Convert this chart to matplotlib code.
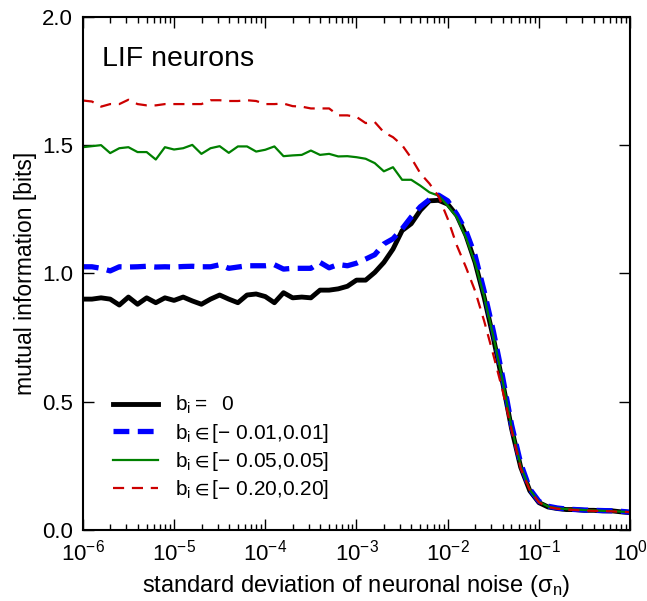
import numpy as np
import matplotlib
matplotlib.use('Agg')
from matplotlib import pyplot as plt

plt.rcParams['font.family'] = ['Liberation Sans', 'DejaVu Sans']
plt.rcParams['mathtext.fontset'] = 'custom'
plt.rcParams['mathtext.rm'] = 'Liberation Sans'
plt.rcParams['mathtext.it'] = 'Liberation Sans'
plt.rcParams['mathtext.default'] = 'regular'

sigma = np.logspace(-6, 0, 61)

mi_b0 = [0.90, 0.90, 0.905, 0.90, 0.877, 0.908, 0.88, 0.905, 0.886, 0.905,
         0.895, 0.908, 0.893, 0.88, 0.90, 0.916, 0.90, 0.886, 0.916, 0.92,
         0.91, 0.886, 0.925, 0.905, 0.908, 0.905, 0.935, 0.935, 0.94, 0.95,
         0.974, 0.974, 1.004, 1.043, 1.095, 1.167, 1.194, 1.246, 1.283, 1.285,
         1.27, 1.226, 1.148, 1.043, 0.906, 0.749, 0.579, 0.395, 0.245, 0.153,
         0.107, 0.09, 0.084, 0.08, 0.08, 0.077, 0.077, 0.075, 0.075, 0.071, 0.068]
mi_b001 = [1.026, 1.026, 1.02, 1.01, 1.026, 1.025, 1.026, 1.028, 1.025, 1.026,
           1.025, 1.027, 1.028, 1.026, 1.026, 1.034, 1.02, 1.025, 1.03, 1.03,
           1.03, 1.034, 1.017, 1.02, 1.02, 1.02, 1.043, 1.022, 1.035, 1.03,
           1.04, 1.056, 1.073, 1.115, 1.135, 1.174, 1.22, 1.26, 1.288, 1.305,
           1.283, 1.23, 1.165, 1.07, 0.93, 0.775, 0.60, 0.41, 0.26, 0.16,
           0.112, 0.093, 0.086, 0.082, 0.08, 0.078, 0.077, 0.076, 0.075, 0.073, 0.07]
mi_b005 = [1.492, 1.496, 1.50, 1.469, 1.488, 1.492, 1.473, 1.473, 1.444, 1.492,
           1.483, 1.488, 1.501, 1.466, 1.488, 1.496, 1.47, 1.495, 1.495, 1.475,
           1.482, 1.495, 1.457, 1.46, 1.462, 1.479, 1.462, 1.466, 1.456, 1.457,
           1.453, 1.447, 1.43, 1.398, 1.414, 1.365, 1.365, 1.342, 1.316, 1.303,
           1.264, 1.219, 1.14, 1.04, 0.91, 0.755, 0.585, 0.40, 0.25, 0.157,
           0.11, 0.092, 0.085, 0.082, 0.08, 0.078, 0.077, 0.075, 0.074, 0.072, 0.07]
mi_b020 = [1.674, 1.67, 1.65, 1.66, 1.66, 1.677, 1.66, 1.655, 1.655, 1.66,
           1.66, 1.66, 1.66, 1.66, 1.675, 1.675, 1.672, 1.672, 1.675, 1.672,
           1.66, 1.66, 1.662, 1.652, 1.65, 1.643, 1.643, 1.643, 1.616, 1.616,
           1.61, 1.586, 1.59, 1.55, 1.531, 1.50, 1.45, 1.39, 1.35, 1.30,
           1.213, 1.109, 1.024, 0.932, 0.814, 0.683, 0.546, 0.389, 0.24, 0.155,
           0.108, 0.09, 0.083, 0.08, 0.078, 0.076, 0.075, 0.074, 0.073, 0.071, 0.07]

labels = [r'$b_i = \ \ 0$', r'$b_i \in$[− 0.01,0.01]',
          r'$b_i \in$[− 0.05,0.05]', r'$b_i \in$[− 0.20,0.20]']

fig = plt.figure(figsize=(6.47, 6.01), dpi=100)
ax = fig.add_axes([0.128, 0.118, 0.846, 0.854])
ax.plot(sigma, mi_b0, color='black', lw=3.5, label=labels[0])
ax.plot(sigma, mi_b001, color='blue', lw=3.8, ls=(0, (3, 1.6)), label=labels[1])
ax.plot(sigma, mi_b005, color='green', lw=1.6, label=labels[2])
ax.plot(sigma, mi_b020, color='#cc0000', lw=1.6, ls=(0, (5, 3.5)), label=labels[3])

ax.set_xscale('log')
ax.set_xlim(1e-6, 1)
ax.set_ylim(0, 2)
ax.set_yticks([0, 0.5, 1.0, 1.5, 2.0])
ax.set_yticklabels(['0.0', '0.5', '1.0', '1.5', '2.0'])
ax.tick_params(which='both', direction='in', top=True, right=True, labelsize=16, pad=7)
ax.tick_params(which='major', length=8, width=1)
ax.tick_params(which='minor', length=4, width=1)
ax.tick_params(axis='y', which='minor', left=False, right=False)
for s in ax.spines.values():
    s.set_linewidth(1.5)

ax.set_xlabel(r'standard deviation of neuronal noise ($\sigma_n$)', fontsize=17, labelpad=5)
ax.set_ylabel('mutual information [bits]', fontsize=16.5, labelpad=4)
ax.text(0.035, 0.905, 'LIF neurons', transform=ax.transAxes, fontsize=20.5)
ax.legend(loc='lower left', bbox_to_anchor=(0.02, 0.02), frameon=False, fontsize=15,
          handlelength=2.2, labelspacing=0.25, handletextpad=0.8)

fig.savefig('out.png', dpi=100)
